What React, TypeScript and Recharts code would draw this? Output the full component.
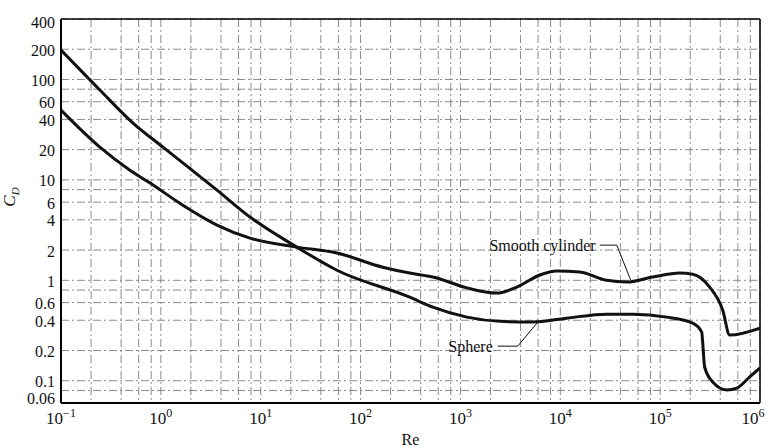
import React from 'react';
import { LineChart, Line, XAxis, YAxis, CartesianGrid, ReferenceLine, ReferenceDot } from 'recharts';

// drag coefficient vs Reynolds number
const sphereRe = [0.1, 0.245, 0.526, 1.05, 3.65, 7.8, 23, 58, 311, 530, 1160, 2480, 5300, 11600, 29200, 53200, 116000, 212000, 261000, 267000, 279000, 336000, 464000, 585000, 789000, 1000000];
const sphereCd = [196, 78.5, 36.8, 21.2, 7.9, 4.27, 2.14, 1.26, 0.68, 0.54, 0.43, 0.39, 0.384, 0.42, 0.46, 0.46, 0.43, 0.375, 0.305, 0.237, 0.137, 0.097, 0.081, 0.0845, 0.109, 0.134];

const cylinderRe = [0.1, 0.245, 0.49, 0.78, 1.66, 3.65, 7.8, 23, 58, 167, 311, 530, 1160, 2310, 3670, 6240, 9220, 15700, 29200, 46300, 84400, 157000, 212000, 313000, 423000, 497000, 1000000];
const cylinderCd = [49.6, 21.2, 12.5, 9.3, 5.6, 3.55, 2.63, 2.14, 1.87, 1.35, 1.18, 1.08, 0.84, 0.746, 0.857, 1.13, 1.24, 1.21, 1.0, 0.96, 1.08, 1.18, 1.15, 0.857, 0.506, 0.285, 0.334];

const xTicks = [0.1, 0.2, 0.4, 0.6, 0.8, 1, 2, 4, 6, 8, 10, 20, 40, 60, 80, 100, 200, 400, 600, 800, 1000, 2000, 4000, 6000, 8000, 1e4, 2e4, 4e4, 6e4, 8e4, 1e5, 2e5, 4e5, 6e5, 8e5, 1e6];
const yTicks = [0.06, 0.08, 0.1, 0.2, 0.4, 0.6, 0.8, 1, 2, 4, 6, 8, 10, 20, 40, 60, 80, 100, 200, 400];
const yLabels = [0.06, 0.1, 0.2, 0.4, 0.6, 1, 2, 4, 6, 10, 20, 40, 60, 100, 200, 400];

// annotation anchors (Re, Cd)
const cylinderLeader = [[24800, 2.24], [36800, 2.24], [50800, 1.0]];
const sphereLeader = [[2370, 0.221], [3750, 0.221], [5960, 0.384]];

const sphereData = sphereRe.map((re, i) => ({ re, cd: sphereCd[i] }));
const cylinderData = cylinderRe.map((re, i) => ({ re, cd: cylinderCd[i] }));

const font = '"Liberation Serif", "Times New Roman", serif';

const XTick = ({ x, y, payload }: any) => {
  const lg = Math.log10(payload.value);
  const e = Math.round(lg);
  if (Math.abs(lg - e) > 1e-6) return null;
  // last label would run off the right edge
  const dx = e === 6 ? -7 : 0;
  return (
    <text x={x + dx} y={y + 21} textAnchor="middle" fontFamily={font} fontSize={17} fill="#111">
      <tspan>10</tspan>
      <tspan dy={-7} fontSize={12}>{e < 0 ? '\u2212' + -e : e}</tspan>
    </text>
  );
};

const YTick = ({ x, y, payload }: any) => {
  const v = payload.value;
  if (!yLabels.includes(v)) return null;
  const shift = v === 400 ? 3 : v === 0.06 ? -5 : 1;
  return (
    <text x={x - 6} y={y + shift} textAnchor="end" dominantBaseline="central" fontFamily={font} fontSize={16} fill="#111">
      {v}
    </text>
  );
};

const Leader = ({ pts }: { pts: number[][] }) => (
  <>
    {pts.slice(1).map((p, i) => (
      <ReferenceLine
        key={i}
        segment={[{ x: pts[i][0], y: pts[i][1] }, { x: p[0], y: p[1] }]}
        stroke="#111"
        strokeWidth={1}
      />
    ))}
  </>
);

export default function App() {
  return (
    <div style={{ position: 'absolute', left: 0, top: 0, background: '#fff' }}>
      <LineChart width={767} height={447} margin={{ top: 19, right: 7, bottom: 0, left: 0 }}>
        <CartesianGrid stroke="#8a8a8a" strokeWidth={1} strokeDasharray="8 3 2 3" />
        <XAxis
          type="number"
          dataKey="re"
          scale="log"
          domain={[0.1, 1e6]}
          ticks={xTicks}
          interval={0}
          allowDataOverflow
          tickLine={false}
          tickSize={0}
          tickMargin={0}
          height={44}
          axisLine={{ stroke: '#000', strokeWidth: 2 }}
          tick={<XTick />}
          label={{ value: 'Re', position: 'insideBottom', offset: 2, fontFamily: font, fontSize: 16, fill: '#111' }}
        />
        <YAxis
          type="number"
          dataKey="cd"
          scale="log"
          domain={[0.06, 400]}
          ticks={yTicks}
          interval={0}
          allowDataOverflow
          tickLine={false}
          tickSize={0}
          tickMargin={0}
          width={61}
          axisLine={{ stroke: '#000', strokeWidth: 2 }}
          tick={<YTick />}
          label={{
            content: ({ viewBox }: any) => (
              <text
                transform={`translate(${viewBox.x + 15}, ${viewBox.y + viewBox.height / 2 - 14}) rotate(-90)`}
                textAnchor="middle"
                fontFamily={font}
                fontSize={17}
                fill="#111"
              >
                <tspan fontStyle="italic">C</tspan>
                <tspan dy={4} fontSize={11} fontStyle="italic">D</tspan>
              </text>
            ),
          }}
        />
        <ReferenceLine y={400} stroke="#000" strokeWidth={1.5} />
        <ReferenceLine x={1e6} stroke="#000" strokeWidth={1.5} />
        <Line data={sphereData} dataKey="cd" type="monotone" stroke="#111" strokeWidth={3} dot={false} isAnimationActive={false} />
        <Line data={cylinderData} dataKey="cd" type="monotone" stroke="#111" strokeWidth={3} dot={false} isAnimationActive={false} />
        {Leader({ pts: cylinderLeader })}
        {Leader({ pts: sphereLeader })}
        <ReferenceDot
          x={22600}
          y={2.24}
          r={0}
          shape={(p: any) => (
            <text x={p.cx} y={p.cy} textAnchor="end" dominantBaseline="central" fontFamily={font} fontSize={16} fill="#111">
              Smooth cylinder
            </text>
          )}
        />
        <ReferenceDot
          x={2110}
          y={0.221}
          r={0}
          shape={(p: any) => (
            <text x={p.cx} y={p.cy} textAnchor="end" dominantBaseline="central" fontFamily={font} fontSize={16} fill="#111">
              Sphere
            </text>
          )}
        />
      </LineChart>
    </div>
  );
}
